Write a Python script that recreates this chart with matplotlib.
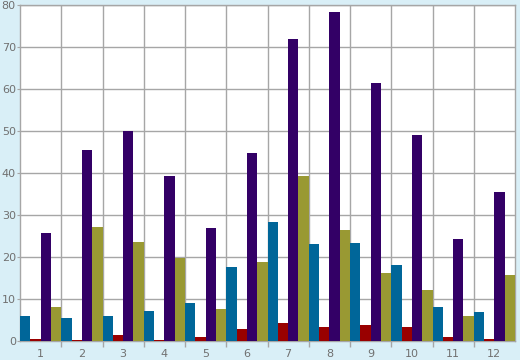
import numpy as np
import matplotlib
matplotlib.use("Agg")
import matplotlib.pyplot as plt
from matplotlib.ticker import FixedLocator

BG_CLR   = "#d9eff7"
GRID_CLR = "#a6a6a6"
TEXT_CLR = "#707070"

categories = ["1", "2", "3", "4", "5", "6", "7", "8", "9", "10", "11", "12"]
serie_azul   = [5.9, 5.4, 5.9, 7.1, 9.0, 17.6, 28.3, 23.1, 23.3, 18.1, 8.0, 6.9]
serie_verm   = [0.4, 0.15, 1.4, 0.15, 0.9, 2.8, 4.2, 3.3, 3.7, 3.3, 0.9, 0.4]
serie_roxa   = [25.7, 45.5, 50.0, 39.3, 26.9, 44.8, 72.0, 78.5, 61.5, 49.1, 24.3, 35.5]
serie_oliva  = [8.0, 27.1, 23.5, 19.7, 7.6, 18.8, 39.3, 26.4, 16.2, 12.1, 5.9, 15.7]

series = [serie_azul, serie_verm, serie_roxa, serie_oliva]
colors = ["#006699", "#990000", "#330066", "#999933"]

fig = plt.figure(figsize=(5.2, 3.6), dpi=100)
fig.patch.set_facecolor(BG_CLR)
ax = fig.add_axes([20 / 520, 1 - 340.7 / 360, 495 / 520, 335.4 / 360])
ax.set_facecolor("white")

x = np.arange(len(categories))
w = 0.25
for k, (vals, c) in enumerate(zip(series, colors)):
    ax.bar(x - 0.375 + k * w, vals, w, color=c, linewidth=0, zorder=3)

ax.set_xlim(-0.5, len(categories) - 0.5)
ax.set_ylim(0, 80)
ax.set_yticks(np.arange(0, 81, 10))
ax.set_xticks(x)
ax.set_xticklabels(categories)
ax.xaxis.set_minor_locator(FixedLocator(np.arange(0.5, len(categories) - 0.5, 1)))

ax.yaxis.grid(True, color=GRID_CLR, linewidth=1, zorder=1)
ax.xaxis.grid(True, which="minor", color=GRID_CLR, linewidth=1, zorder=1)
ax.set_axisbelow(True)

ax.tick_params(axis="x", which="major", length=0, colors=TEXT_CLR, labelsize=8, pad=6)
ax.tick_params(axis="x", which="minor", length=4, color=GRID_CLR, width=1)
ax.tick_params(axis="y", length=2, color=GRID_CLR, labelcolor=TEXT_CLR, labelsize=8, pad=1)
for sp in ax.spines.values():
    sp.set_color(GRID_CLR)
    sp.set_linewidth(1)

fig.savefig("out.png", dpi=100, facecolor=fig.get_facecolor())
